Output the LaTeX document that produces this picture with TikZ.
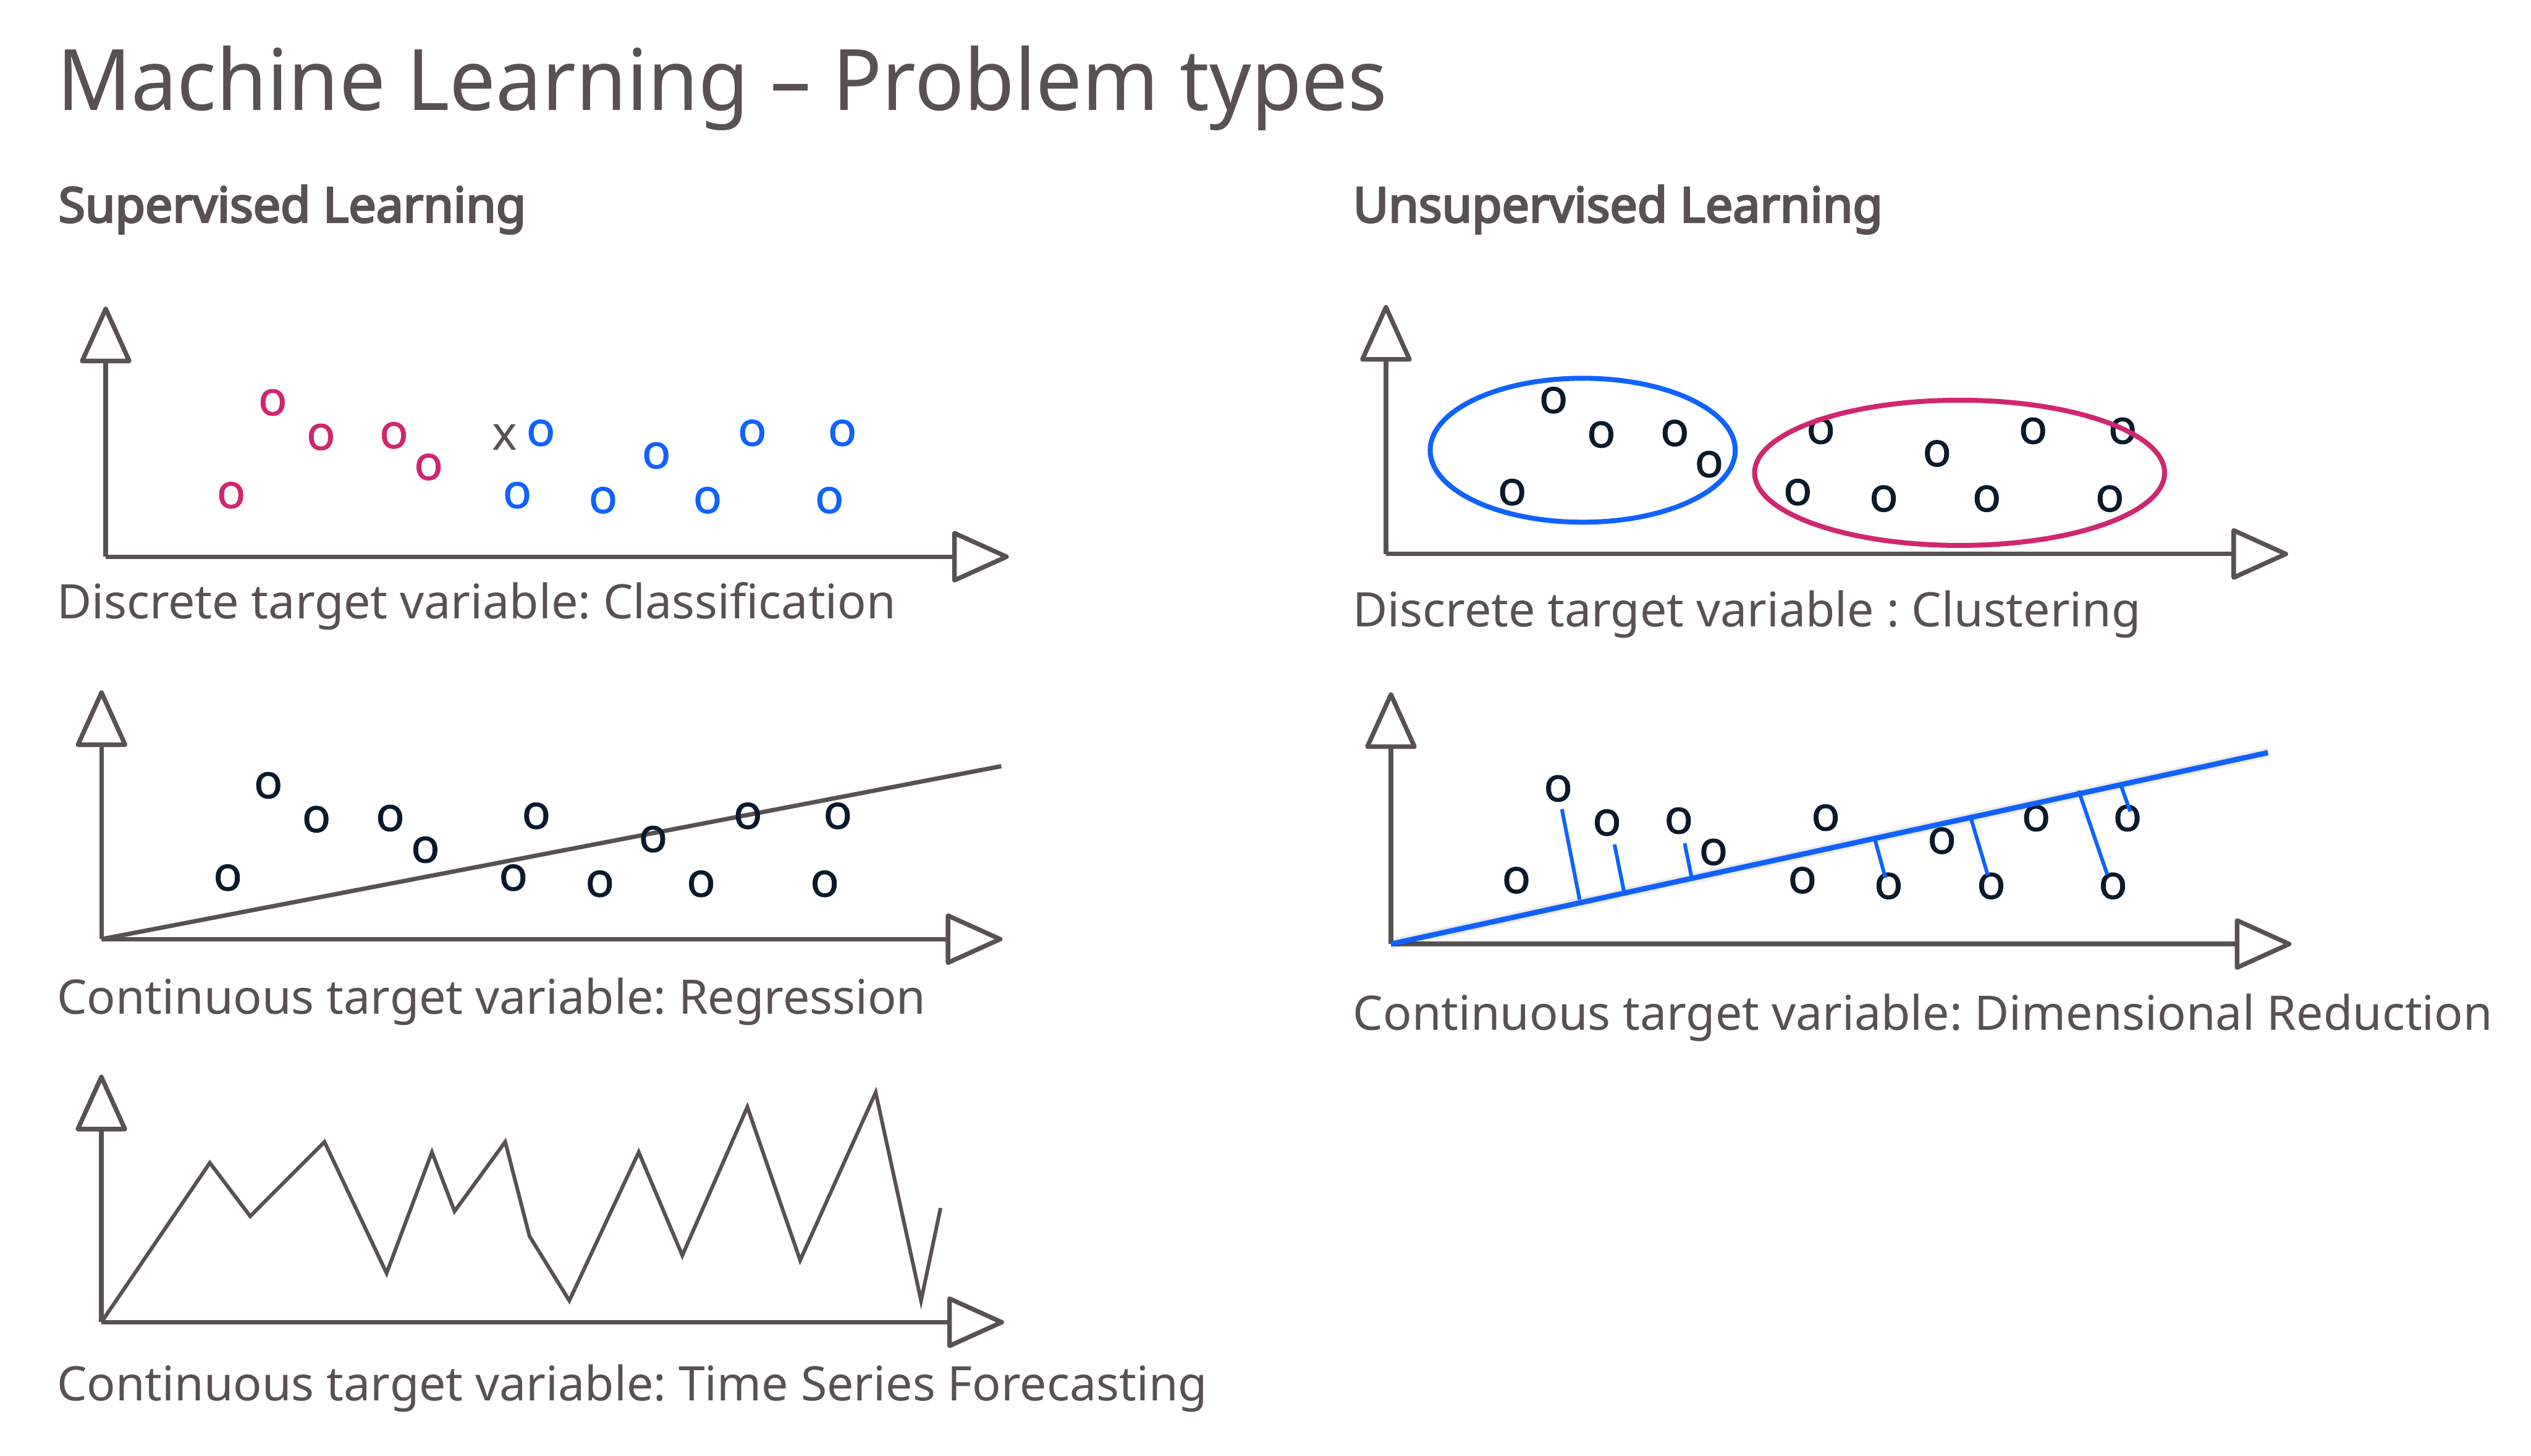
\documentclass[tikz,border=0pt]{standalone}
\usepackage{fontspec}
\setmainfont{Noto Sans}
\newfontfamily\titlefont{Noto Sans}[FakeStretch=0.967]
\newfontfamily\headfont{Noto Sans}[FakeBold=3.8]
\newfontfamily\pointfont{Noto Sans}[FakeBold=1.2]
\usepackage{tikz}
\usetikzlibrary{positioning, calc, arrows.meta}
\usepackage{xcolor}
\definecolor{cgray}{HTML}{575251}
\definecolor{cmagenta}{HTML}{D02670}
\definecolor{cblue}{HTML}{0F62FE}
\definecolor{cpoint}{HTML}{0B1A2B}
\frenchspacing

\begin{document}
\begin{tikzpicture}[
	x=0.0274235cm, y=-0.0274235cm,
	% Estilo para los ejes
	axisline/.style={
		draw=cgray,
		line width=2.2pt,
		-{Triangle[open, round, length=1.02cm, width=0.9cm]}
	},
	% Estilo para los textos
	titletext/.style={
		anchor=base west,
		inner sep=0pt,
		text=cgray,
		font=\titlefont\fontsize{41}{49}\selectfont
	},
	headtext/.style={
		anchor=base west,
		inner sep=0pt,
		text=cgray,
		font=\headfont\fontsize{23.5}{28}\selectfont
	},
	captext/.style={
		anchor=base west,
		inner sep=0pt,
		text=cgray,
		font=\fontsize{23}{28}\selectfont
	},
	% Estilo para los puntos
	ptmark/.style={
		inner sep=0pt,
		text=cpoint,
		font=\pointfont\fontsize{23}{28}\selectfont
	},
	% Estilo para las lineas
	fitline/.style={
		draw=cgray,
		line width=2.1pt
	},
	projline/.style={
		draw=cblue,
		line width=1.8pt
	}
	]
	
	\useasboundingbox (0,0) rectangle (1568,902);
	
	% --- Titulos ---
	\node[titletext] (title) at (35,68.2) {Machine Learning – Problem types};
	\node[headtext] (sup) at (36,137.7) {Supervised Learning};
	\node[headtext] (unsup) at (838,137.7) {Unsupervised Learning};
	
	% --- Clasificacion ---
	\begin{scope}[local bounding box=classif]
		\coordinate (o1) at (65.5,345);
		\coordinate (y1) at (65.5,190);
		\coordinate (x1) at (625,345);
		\draw[axisline] (o1) -- (y1);
		\draw[axisline] (o1) -- (x1);
		
		% Puntos magenta
		\node[ptmark, text=cmagenta] (m1) at (168.9,249.4) {o};
		\node[ptmark, text=cmagenta] (m2) at (198.8,270.8) {o};
		\node[ptmark, text=cmagenta] (m3) at (244,269.8) {o};
		\node[ptmark, text=cmagenta] (m4) at (265.5,289.4) {o};
		\node[ptmark, text=cmagenta] (m5) at (143.2,306.9) {o};
		
		% Punto nuevo
		\node[captext, anchor=center, text=cgray] (newpt) at (312.8,270.8) {x};
		
		% Puntos azules
		\node[ptmark, text=cblue] (b1) at (335,268.3) {o};
		\node[ptmark, text=cblue] (b2) at (406.6,282.3) {o};
		\node[ptmark, text=cblue] (b3) at (466,268.3) {o};
		\node[ptmark, text=cblue] (b4) at (521.8,268.3) {o};
		\node[ptmark, text=cblue] (b5) at (320.4,306.9) {o};
		\node[ptmark, text=cblue] (b6) at (373.6,310) {o};
		\node[ptmark, text=cblue] (b7) at (438.3,310) {o};
		\node[ptmark, text=cblue] (b8) at (513.8,310) {o};
		
		\node[captext] (cap1) at (35,383.3) {Discrete target variable: Classification};
	\end{scope}
	
	% --- Regresion ---
	\begin{scope}[local bounding box=regress]
		\coordinate (o2) at (62.9,582);
		\coordinate (y2) at (62.9,427.8);
		\coordinate (x2) at (621,582);
		\draw[axisline] (o2) -- (y2);
		\draw[axisline] (o2) -- (x2);
		
		\coordinate (r2) at (620.3,474.8);
		\draw[fitline] (o2) -- (r2);
		
		\node[ptmark] (p1) at (166.2,486.7) {o};
		\node[ptmark] (p2) at (196,507.7) {o};
		\node[ptmark] (p3) at (241.7,507) {o};
		\node[ptmark] (p4) at (263.5,526.6) {o};
		\node[ptmark] (p5) at (141.1,543.9) {o};
		\node[ptmark] (p6) at (332.2,505.6) {o};
		\node[ptmark] (p7) at (318,543.9) {o};
		\node[ptmark] (p8) at (371.6,547.7) {o};
		\node[ptmark] (p9) at (404.6,520) {o};
		\node[ptmark] (p10) at (463.3,505.6) {o};
		\node[ptmark] (p11) at (519,505.6) {o};
		\node[ptmark] (p12) at (434.3,547.7) {o};
		\node[ptmark] (p13) at (510.9,547.7) {o};
		
		\node[captext] (cap2) at (35,628.4) {Continuous target variable: Regression};
	\end{scope}
	
	% --- Series de tiempo ---
	\begin{scope}[local bounding box=tseries]
		\coordinate (o3) at (62.8,819.4);
		\coordinate (y3) at (62.8,666);
		\coordinate (x3) at (622,819.4);
		\draw[axisline] (o3) -- (y3);
		\draw[axisline] (o3) -- (x3);
		
		\draw[cgray, line width=1.8pt] (o3) -- (130,720.6) -- (155,753.7) -- (201,707.6)
		-- (239.5,789) -- (267.6,714) -- (281.6,750.6) -- (313,707.6) -- (328,766)
		-- (352.7,806) -- (395.7,714) -- (422.7,778) -- (463,686) -- (495.7,781)
		-- (542.5,677) -- (570.6,806) -- (582.7,748.6);
		
		\node[captext] (cap3) at (35,868) {Continuous target variable: Time Series Forecasting};
	\end{scope}
	
	% --- Clustering ---
	\begin{scope}[local bounding box=cluster]
		\coordinate (o4) at (858.6,343.3);
		\coordinate (y4) at (858.6,189);
		\coordinate (x4) at (1417.5,343.3);
		\draw[axisline] (o4) -- (y4);
		\draw[axisline] (o4) -- (x4);
		
		\node[ptmark] (k1) at (962.4,248) {o};
		\node[ptmark] (k2) at (992,269.3) {o};
		\node[ptmark] (k3) at (1037.5,268.4) {o};
		\node[ptmark] (k4) at (1058.8,287.7) {o};
		\node[ptmark] (k5) at (936.8,305) {o};
		
		\node[ptmark] (k6) at (1128,267) {o};
		\node[ptmark] (k7) at (1200,281) {o};
		\node[ptmark] (k8) at (1259.5,267) {o};
		\node[ptmark] (k9) at (1315,267) {o};
		\node[ptmark] (k10) at (1113.7,305) {o};
		\node[ptmark] (k11) at (1167,309) {o};
		\node[ptmark] (k12) at (1230.8,309) {o};
		\node[ptmark] (k13) at (1307,309) {o};
		
		% Grupos
		\draw[cblue, line width=2.4pt] (980.5,279) ellipse [x radius=94.5, y radius=44.6];
		\draw[cmagenta, line width=2.4pt] (1214,293) ellipse [x radius=127, y radius=45];
		
		\node[captext] (cap4) at (838,388.2) {Discrete target variable : Clustering};
	\end{scope}
	
	% --- Reduccion de dimension ---
	\begin{scope}[local bounding box=dimred]
		\coordinate (o5) at (861.7,585);
		\coordinate (y5) at (861.7,429);
		\coordinate (x5) at (1419.6,585);
		\draw[axisline] (o5) -- (y5);
		\draw[axisline] (o5) -- (x5);
		
		\node[ptmark] (d1) at (965.3,488.6) {o};
		\node[ptmark] (d2) at (995.5,509.8) {o};
		\node[ptmark] (d3) at (1040,508.6) {o};
		\node[ptmark] (d4) at (1061.5,528) {o};
		\node[ptmark] (d5) at (939.4,545.5) {o};
		\node[ptmark] (d6) at (1131,506.7) {o};
		\node[ptmark] (d7) at (1116.6,545.5) {o};
		\node[ptmark] (d8) at (1203,521) {o};
		\node[ptmark] (d9) at (1261.4,507) {o};
		\node[ptmark] (d10) at (1318,507) {o};
		\node[ptmark] (d11) at (1170,549) {o};
		\node[ptmark] (d12) at (1233.6,549) {o};
		\node[ptmark] (d13) at (1309,549) {o};
		
		% Linea principal con sombra
		\coordinate (e5) at (1405,466.4);
		\draw[black, opacity=0.07, line width=5pt, shift={(0.5,2.5)}] (o5) -- (e5);
		\draw[black, opacity=0.1, line width=3pt, shift={(0.5,2)}] (o5) -- (e5);
		\draw[cblue, line width=2.5pt] (o5) -- (e5);
		
		% Proyecciones
		\draw[projline] (967.6,501.4) -- (978.6,557.6);
		\draw[projline] (1000.2,523.3) -- (1006.5,554.6);
		\draw[projline] (1043.7,522.6) -- (1048,544);
		\draw[projline] (1161.7,520.8) -- (1168,544);
		\draw[projline] (1220.6,505.7) -- (1231.5,542.4);
		\draw[projline] (1287.7,490) -- (1305.5,542);
		\draw[projline] (1314,486.8) -- (1319.7,502.9);
		
		\node[captext] (cap5) at (838,638.2) {Continuous target variable: Dimensional Reduction};
	\end{scope}
	
\end{tikzpicture}
\end{document}
